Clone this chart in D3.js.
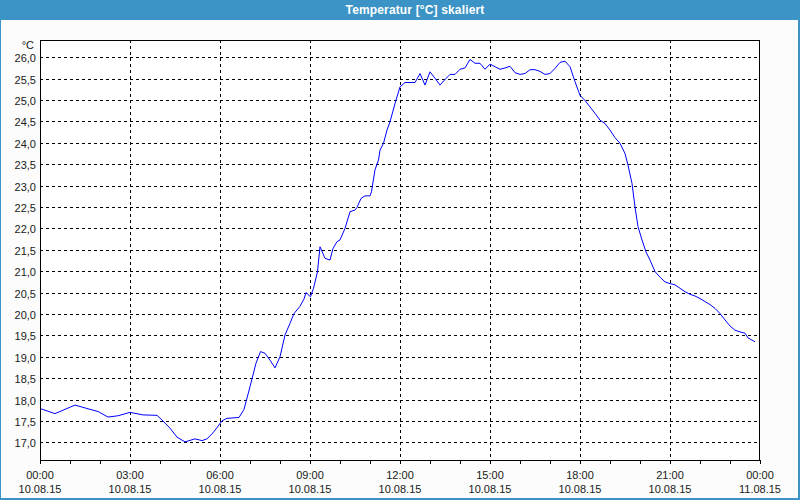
<!DOCTYPE html>
<html><head><meta charset="utf-8">
<script src="https://cdn.jsdelivr.net/npm/d3@7"></script>
<style>body{margin:0;background:#fbfcfb;overflow:hidden}svg{display:block}</style>
</head><body><svg id="c" width="800" height="500"></svg>
<script>
// minutes since 10.08.15 00:00
const minutes = [0,30,70,94,116,136,156,180,206,234,244,260,274,290,310,324,334,346,364,374,398,408,420,432,441,450,460,470,480,490,500,508,520,528,532,541,547,555,560,570,580,586,594,600,610,620,630,634,642,650,660,663,670,677,680,687,694,700,710,720,730,750,760,770,780,790,800,810,820,830,840,850,860,870,880,890,900,910,920,930,940,950,960,970,980,990,1000,1010,1020,1030,1040,1050,1060,1070,1080,1090,1100,1110,1120,1130,1140,1150,1160,1170,1176,1184,1190,1196,1204,1212,1220,1230,1240,1250,1260,1270,1280,1290,1300,1310,1320,1330,1340,1350,1360,1370,1380,1390,1400,1410,1416,1430];
const temps = [17.79,17.67,17.87,17.79,17.72,17.59,17.62,17.70,17.64,17.63,17.52,17.33,17.12,17.01,17.08,17.04,17.08,17.22,17.50,17.56,17.58,17.77,18.30,18.85,19.12,19.08,18.92,18.74,19.00,19.51,19.78,20.01,20.18,20.35,20.50,20.40,20.60,20.99,21.57,21.30,21.26,21.53,21.69,21.73,22.00,22.39,22.43,22.49,22.70,22.76,22.76,22.86,23.37,23.60,23.83,23.99,24.30,24.49,24.92,25.31,25.41,25.41,25.62,25.35,25.66,25.51,25.35,25.48,25.60,25.60,25.72,25.75,25.95,25.86,25.86,25.72,25.84,25.78,25.72,25.75,25.79,25.64,25.60,25.62,25.71,25.71,25.67,25.60,25.62,25.74,25.88,25.91,25.78,25.43,25.11,24.99,24.84,24.69,24.53,24.45,24.30,24.12,23.99,23.75,23.48,23.05,22.50,22.04,21.73,21.45,21.26,20.99,20.86,20.75,20.71,20.68,20.60,20.52,20.46,20.42,20.36,20.29,20.22,20.13,20.01,19.86,19.72,19.62,19.58,19.55,19.44,19.35];
const yTicks = [17.0,17.5,18.0,18.5,19.0,19.5,20.0,20.5,21.0,21.5,22.0,22.5,23.0,23.5,24.0,24.5,25.0,25.5,26.0];
const hourTicks = [0,1,2,3,4,5,6,7,8,9,10,11,12,13,14,15,16,17,18,19,20,21,22,23,24];
const labelHours = [0,3,6,9,12,15,18,21,24];
const timeLabels = ["00:00","03:00","06:00","09:00","12:00","15:00","18:00","21:00","00:00"];
const dateLabels = ["10.08.15","10.08.15","10.08.15","10.08.15","10.08.15","10.08.15","10.08.15","10.08.15","11.08.15"];
const title = "Temperatur [°C] skaliert";
const unit = "°C";

const W = 800, H = 500;
const L = 40, R = 760, T = 40, B = 460;
const blue = "#3c93c5";
const font = "'Liberation Sans', Arial, sans-serif";
const svg = d3.select("#c");

// frame
svg.append("rect").attr("x",0).attr("y",0).attr("width",W).attr("height",H).attr("fill","#fbfcfb");
svg.append("rect").attr("x",0).attr("y",0).attr("width",W).attr("height",20).attr("fill",blue);
svg.append("rect").attr("x",0).attr("y",0).attr("width",1).attr("height",H).attr("fill",blue);
svg.append("rect").attr("x",W-2).attr("y",0).attr("width",2).attr("height",H).attr("fill",blue);
svg.append("rect").attr("x",0).attr("y",H-2).attr("width",W).attr("height",2).attr("fill",blue);
svg.append("text").attr("x",415).attr("y",14).attr("text-anchor","middle")
  .attr("fill","#fff").attr("font-family",font).attr("font-weight","bold").attr("font-size",12)
  .attr("letter-spacing","0.15px").text(title);

const x = d3.scaleLinear().domain([0,1440]).range([L,R]);
const y = d3.scaleLinear().domain([16.586,26.404]).range([B,T]);
const px = v => Math.round(v)+0.5;

const g = svg.append("g");
g.append("rect").attr("x",L).attr("y",T).attr("width",R-L).attr("height",B-T).attr("fill","#fff");

// horizontal grid
g.selectAll(".hg").data(yTicks).enter().append("line")
  .attr("x1",L).attr("x2",R).attr("y1",d=>px(y(d))).attr("y2",d=>px(y(d)))
  .attr("stroke","#000").attr("stroke-dasharray","3,3").attr("shape-rendering","crispEdges");
// vertical grid
g.selectAll(".vg").data(labelHours.slice(1,-1)).enter().append("line")
  .attr("x1",d=>px(x(d*60))).attr("x2",d=>px(x(d*60))).attr("y1",T).attr("y2",B)
  .attr("stroke","#000").attr("stroke-dasharray","3,3").attr("shape-rendering","crispEdges");

// data line
const line = d3.line().x((d,i)=>x(minutes[i])).y(d=>y(d));
g.append("path").datum(temps).attr("d",line).attr("fill","none").attr("stroke","#0000ff").attr("stroke-width",1);

// frame of plot
g.append("rect").attr("x",L+0.5).attr("y",T+0.5).attr("width",R-L-1).attr("height",B-T)
  .attr("fill","none").attr("stroke","#000").attr("shape-rendering","crispEdges");

// bottom ticks
const xAxis = d3.axisBottom(x).tickValues(hourTicks.map(h=>h*60)).tickSize(4).tickFormat("");
const ax = svg.append("g").attr("transform",`translate(0,${B})`).call(xAxis);
ax.select(".domain").remove();
ax.selectAll("line").attr("stroke","#000").attr("shape-rendering","crispEdges");

// x labels
const xl = svg.append("g").attr("font-family",font).attr("font-size",11).attr("fill","#1a1a1a").attr("text-anchor","middle");
labelHours.forEach((h,i)=>{
  xl.append("text").attr("x",x(h*60)).attr("y",479).text(timeLabels[i]);
  xl.append("text").attr("x",x(h*60)).attr("y",493).text(dateLabels[i]);
});

// y labels
const fmt = d3.format(".1f");
const yl = svg.append("g").attr("font-family",font).attr("font-size",11).attr("fill","#1a1a1a").attr("text-anchor","end");
yTicks.forEach(v=>{
  yl.append("text").attr("x",36).attr("y",y(v)+5).text(fmt(v).replace(".",","));
});
yl.append("text").attr("x",34).attr("y",49).text(unit);
</script>
</body></html>
